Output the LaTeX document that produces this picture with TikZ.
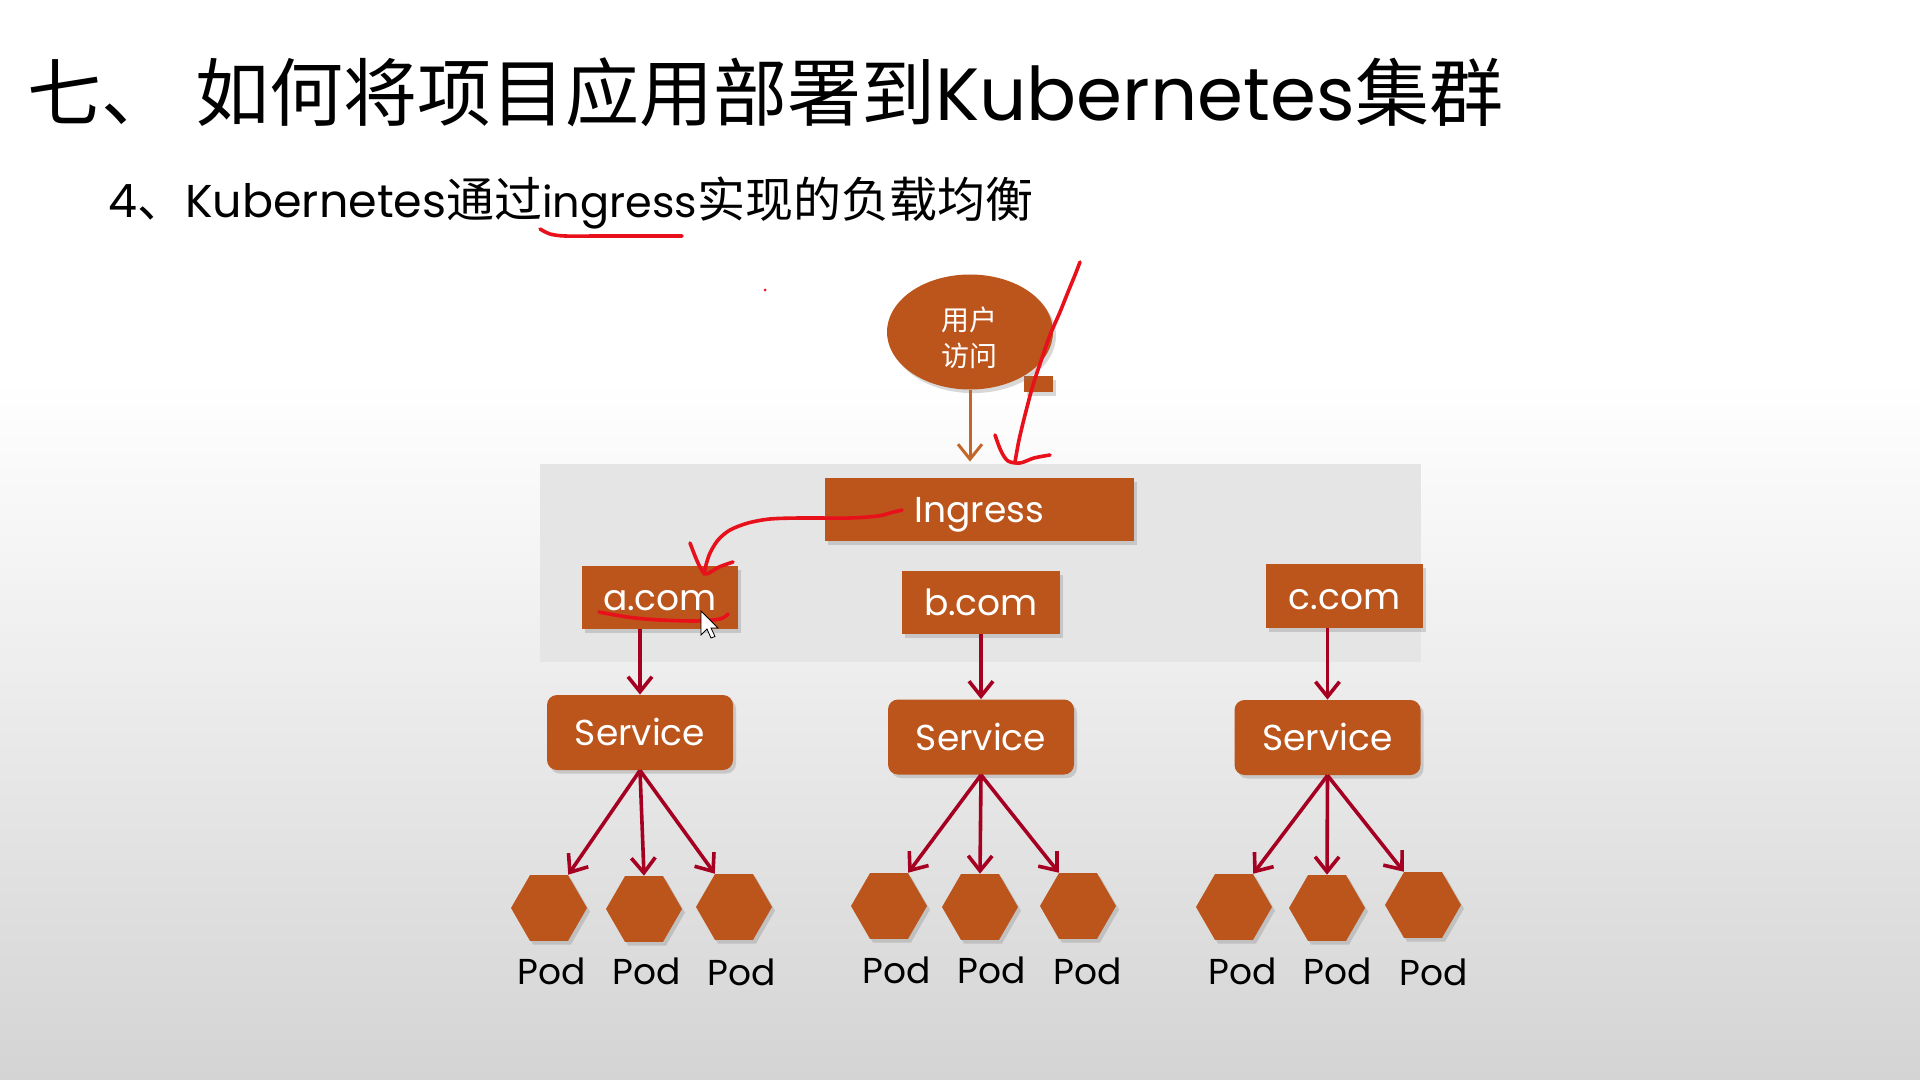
\documentclass[tikz,border=0pt]{standalone}
\usepackage{fontspec}
\setmainfont{Poppins}
\newfontfamily\cjk{Noto Sans CJK SC}
\usetikzlibrary{shapes.geometric,arrows.meta,shadows,calc}
\definecolor{rust}{RGB}{187,85,28}
\definecolor{arrowred}{RGB}{165,0,33}
\definecolor{inkred}{RGB}{232,16,26}
\definecolor{userarrow}{RGB}{196,101,42}
\definecolor{panel}{RGB}{229,229,229}
\definecolor{bgbottom}{RGB}{212,212,212}
\begin{document}
\begin{tikzpicture}[x=0.5pt,y=-0.5pt,
  shad/.style={drop shadow={opacity=0.3,shadow xshift=1.5pt,shadow yshift=-1.8pt}},
  box/.style={fill=rust,text=white,inner sep=0pt,shad,font=\fontsize{18}{20}\selectfont,
    text height=14pt,text depth=1pt},
  svc/.style={box,rounded corners=5pt,minimum width=93pt,minimum height=37.5pt},
  pod/.style={regular polygon,regular polygon sides=6,minimum size=38pt,inner sep=0pt,fill=rust,shad},
  podlbl/.style={font=\fontsize{18}{20}\selectfont,text=black,inner sep=0pt},
  redarr/.style={draw=arrowred,line width=1.8pt,-{Straight Barb[length=7.5pt,width=12pt]}},
  userarr/.style={draw=userarrow,line width=1.5pt,-{Straight Barb[length=7.5pt,width=12pt]}},
  ink/.style={draw=inkred,line width=1.8pt,line cap=round,line join=round}
]
\useasboundingbox (0,0) rectangle (1920,1080);
% background
\fill[white] (0,0) rectangle (1920,1080);
\shade[top color=white,bottom color=bgbottom] (0,380) rectangle (1920,1080);
\fill[panel] (540,464) rectangle (1421,662);

% titles
\node[anchor=west,inner sep=0pt,font=\fontsize{37}{40}\selectfont] (title) at (27,92)
  {{\cjk 七、}\ {\cjk 如何将项目应用部署到}Kubernetes{\cjk 集群}};
\node[anchor=west,inner sep=0pt,font=\fontsize{24}{26}\selectfont] (sub) at (108,203)
  {{\fontsize{23}{26}\selectfont 4}{\cjk 、}{\fontsize{23}{26}\selectfont Kubernetes}{\cjk 通过}{\fontsize{21.5}{26}\selectfont ingress}{\cjk 实现的负载均衡}};

% user
\fill[rust,shad] (1024,376) rectangle (1053,392);
\node[ellipse,fill=rust,shad,minimum width=83pt,minimum height=57.5pt,inner sep=0pt] (user) at (970,332) {};
\node[text=white,align=center,inner sep=0pt,font=\cjk\fontsize{14}{18}\selectfont] (userlbl) at (969,338) {用户\\访问};

% boxes
\node[box,minimum width=154.5pt,minimum height=31.5pt] (ing) at (979.5,509.5) {Ingress};
\node[box,minimum width=78pt,minimum height=31.5pt] (acom) at (660,597.5) {a.com};
\node[box,minimum width=79pt,minimum height=31.5pt] (bcom) at (981,602.5) {b.com};
\node[box,minimum width=78.5pt,minimum height=32pt] (ccom) at (1344.5,596) {c.com};

\node[svc] (sa) at (640,732.5) {Service};
\node[svc] (sb) at (981,737) {Service};
\node[svc] (sc) at (1327.5,737.5) {Service};

% pods
\node[pod] (pa1) at (549,908) {};
\node[pod] (pa2) at (644,909) {};
\node[pod] (pa3) at (734,907) {};
\node[pod] (pb1) at (889,906) {};
\node[pod] (pb2) at (980,907) {};
\node[pod] (pb3) at (1078,906) {};
\node[pod] (pc1) at (1234,907) {};
\node[pod] (pc2) at (1327,908) {};
\node[pod] (pc3) at (1423,905) {};

\node[podlbl] (la1) at (552,971) {Pod};
\node[podlbl] (la2) at (647,971) {Pod};
\node[podlbl] (la3) at (742,972) {Pod};
\node[podlbl] (lb1) at (897,970) {Pod};
\node[podlbl] (lb2) at (992,970) {Pod};
\node[podlbl] (lb3) at (1088,971) {Pod};
\node[podlbl] (lc1) at (1243,971) {Pod};
\node[podlbl] (lc2) at (1338,971) {Pod};
\node[podlbl] (lc3) at (1434,972) {Pod};

% connectors
\draw[userarr] (user.south) -- ([yshift=8pt]user.south |- ing.north);
\draw[redarr] (sa.north |- acom.south) -- (sa.north);
\draw[redarr] (sb.north |- bcom.south) -- (sb.north);
\draw[redarr] (sc.north |- ccom.south) -- (sc.north);
\foreach \s/\p in {sa/pa,sb/pb,sc/pc}{
  \draw[redarr] (\s.south) -- (\p1.60);
  \draw[redarr] (\s.south) -- (\p2.north);
  \draw[redarr] (\s.south) -- (\p3.120);
}

% hand-drawn annotations
\draw[ink] plot[smooth] coordinates {(540,229) (550,234) (565,236) (600,236) (640,236) (682,236)};
\draw[ink] plot[smooth] coordinates {(1080,262) (1075,275) (1068,292) (1060,312) (1050,335) (1042,358) (1033,385) (1025,415) (1019,440) (1015,462)};
\draw[ink] plot[smooth] coordinates {(995,435) (1001,451) (1008,461) (1020,463) (1034,458) (1050,455)};
\draw[ink] plot[smooth] coordinates {(902,510) (890,513) (878,516) (850,518) (800,518) (770,519) (748,523) (730,530) (718,540) (710,553) (706,565) (704,574)};
\draw[ink] plot[smooth] coordinates {(690,543) (695,556) (700,567) (706,574) (719,567) (733,562)};
\draw[ink] plot[smooth] coordinates {(599,612) (615,615) (635,618) (660,620) (696,621) (720,619) (728,614)};
\fill[inkred] (765,290) circle (1.5);

% mouse cursor
\filldraw[fill=white,draw=black,line width=0.4pt,shift={(701,611)}]
  (0,0) -- (0,24) -- (6,18) -- (10,27) -- (14,25.5) -- (10,17) -- (17,17) -- cycle;
\end{tikzpicture}
\end{document}
